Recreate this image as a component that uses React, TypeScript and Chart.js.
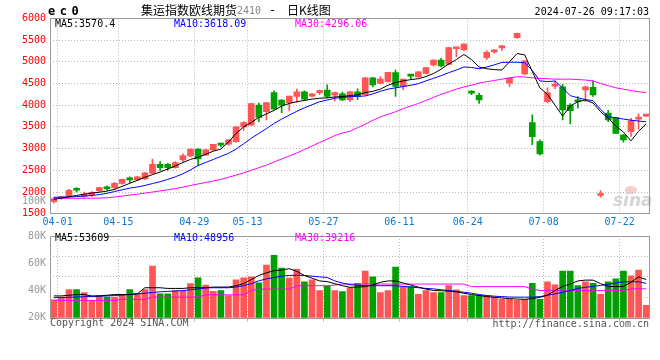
import React, { useEffect, useRef } from "react";
import { Chart, registerables } from "chart.js";
Chart.register(...registerables);

// ---------- DATA ----------
const dates = [
  "04-01","04-02","04-03","04-08","04-09","04-10","04-11","04-12","04-15","04-16",
  "04-17","04-18","04-19","04-22","04-23","04-24","04-25","04-26","04-29","04-30",
  "05-06","05-07","05-08","05-09","05-10","05-13","05-14","05-15","05-16","05-17",
  "05-20","05-21","05-22","05-23","05-24","05-27","05-28","05-29","05-30","05-31",
  "06-03","06-04","06-05","06-06","06-07","06-11","06-12","06-13","06-14","06-17",
  "06-18","06-19","06-20","06-21","06-24","06-25","06-26","06-27","06-28","07-01",
  "07-02","07-03","07-04","07-05","07-08","07-09","07-10","07-11","07-12","07-15",
  "07-16","07-17","07-18","07-19","07-22","07-23","07-24","07-25","07-26",
];
const tickDates = ["04-01","04-15","04-29","05-13","05-27","06-11","06-24","07-08","07-22"];

const open = [
  1780,1850,1900,2060,1900,1940,2030,2120,2100,2200,
  2310,2280,2300,2430,2640,2640,2560,2740,2830,2990,
  2850,2970,3100,3100,3160,3500,3540,4000,3850,4290,
  4120,4060,4200,4310,4210,4290,4350,4230,4260,4120,
  4310,4240,4630,4500,4540,4750,4430,4690,4650,4735,
  4926,5041,4942,5300,5271,4300,4230,5094,5230,5320,
  4505,5555,4720,3597,3159,4080,4440,4426,4003,4120,
  4350,4410,1920,3820,3712,3310,3390,3680,3750,
];
const high = [
  1870,1900,2060,2100,2000,2010,2110,2140,2220,2300,
  2350,2360,2450,2760,2700,2660,2700,2880,2990,3000,
  2990,3100,3130,3200,3510,3620,4050,4050,4060,4330,
  4130,4210,4370,4330,4270,4350,4470,4300,4300,4320,
  4380,4640,4640,4660,4760,4810,4600,4700,4780,4870,
  5050,5080,5330,5320,5420,4330,4280,5260,5280,5380,
  4630,5660,5030,3780,3200,4400,4560,4480,4040,4200,
  4440,4560,2030,3880,3720,3330,3700,3800,3780,
];
const low = [
  1740,1830,1890,2000,1880,1900,2000,2040,2050,2180,
  2210,2260,2290,2420,2500,2500,2550,2700,2810,2610,
  2840,2960,3040,3080,3150,3420,3540,3620,3660,3910,
  3830,3870,4070,4110,4190,4240,4170,4100,4110,4080,
  4130,4230,4420,4490,4530,4200,4350,4600,4640,4720,
  4900,4880,4930,5120,5260,4240,4040,5050,5200,5265,
  4430,5540,4700,3090,2850,4050,4380,3660,3570,3930,
  4080,4200,1880,3620,3352,3150,3280,3450,3740,
];
const close = [
  1850,1880,2040,2040,1950,1990,2100,2070,2200,2290,
  2280,2350,2440,2640,2560,2560,2680,2840,2990,2760,
  2970,3100,3080,3200,3500,3600,4040,3720,4060,3910,
  4000,4210,4310,4140,4260,4330,4200,4290,4120,4310,
  4200,4630,4470,4600,4760,4430,4600,4670,4770,4864,
  5041,4903,5325,5315,5410,4280,4120,5218,5250,5345,
  4620,5655,5020,3274,2876,4288,4470,3889,3873,4080,
  4426,4235,1960,3660,3352,3200,3640,3720,3770,
];
const ma5 = [
  1830,1860,1890,1920,1950,1975,1995,2020,2060,2130,
  2200,2270,2340,2400,2460,2530,2600,2680,2750,2800,
  2870,2940,2990,3150,3350,3500,3600,3720,3800,3880,
  3980,4040,4080,4110,4140,4160,4170,4190,4200,4220,
  4240,4290,4320,4370,4460,4520,4560,4590,4610,4660,
  4730,4830,4950,5050,5170,5050,4880,4840,4820,4810,
  5000,5190,5160,4780,4400,4250,4000,3750,3980,4080,
  4120,4050,3850,3700,3520,3380,3180,3400,3570,
];
const ma10 = [
  1878,1880,1885,1895,1905,1920,1940,1970,2010,2050,
  2090,2115,2150,2195,2237,2290,2350,2420,2510,2610,
  2680,2750,2820,2890,2990,3110,3240,3350,3460,3580,
  3680,3770,3860,3940,4010,4080,4120,4160,4182,4195,
  4205,4212,4260,4320,4370,4400,4430,4460,4496,4560,
  4620,4680,4750,4810,4880,4870,4840,4880,4930,4985,
  4990,4990,4980,4800,4560,4545,4557,4400,4220,4170,
  4130,4104,3900,3735,3710,3680,3655,3635,3618,
];
const ma30 = [
  1855,1855,1855,1855,1855,1858,1860,1865,1885,1905,
  1930,1950,1975,2000,2025,2050,2080,2110,2150,2185,
  2220,2255,2290,2340,2390,2440,2500,2560,2620,2690,
  2760,2830,2900,2980,3060,3140,3220,3300,3360,3400,
  3480,3560,3650,3730,3790,3850,3920,3980,4040,4110,
  4180,4250,4310,4370,4420,4460,4510,4540,4570,4600,
  4630,4656,4650,4630,4620,4610,4600,4600,4600,4590,
  4580,4560,4500,4450,4400,4370,4340,4310,4290,
];
// volume in thousands of lots
const volume = [
  33.2,35.1,40.6,40.6,38.5,32.7,36.3,35.1,35.1,37.1,
  40.6,37.8,40.6,57.9,37.6,37.6,39.9,39.4,45.0,49.3,
  44.0,39.4,39.9,36.3,47.8,49.3,50.0,45.7,58.6,65.8,
  56.5,49.1,55.5,46.4,47.8,39.9,43.0,39.9,39.2,41.9,
  45.2,54.3,50.0,38.5,39.9,57.2,42.8,42.8,37.1,39.9,
  38.5,38.5,43.5,40.4,36.3,36.3,36.3,36.3,35.1,33.5,
  33.5,32.7,33.5,45.2,33.5,46.4,44.2,54.3,54.3,43.5,
  46.4,45.2,37.1,46.4,48.6,54.3,50.7,55.0,29.1,
];
const volMa5 = [
  36,36,36.5,37,37,36,36,36.5,37,37,
  37,37.5,42,42,42,41.5,41.5,41.5,42,42,
  42,42.5,42.5,42.5,43.5,45,48,51,53,54.5,
  55,56,54,51,49,47,46.5,45,43.5,42.3,
  42.5,42.8,44,46,47,47,45.5,44,42.5,41,
  40,39.8,39.5,39,38,37,36.3,35.5,35,34.5,
  34,33.7,33.5,34,35,36.5,40,43,44.7,47,
  47.6,47.6,45,43,42.8,43,46,50,48,
];
const volMa10 = [
  34.7,34.8,35,35.2,35.4,35.6,35.8,36,36.3,36.6,
  37,37.5,38,38.5,39,39.3,39.6,39.9,40.5,41.2,
  41.9,42,42,42,42.5,43.5,45,47.1,48.5,49.5,
  50.5,51,51.2,51,50.5,50,49.5,47,45.5,44.2,
  43.8,43.5,43.5,43.5,43.5,43.5,43,42.5,42,41.5,
  41.2,40.5,40,39.3,38.7,38,37,36.3,35.8,35.5,
  35.2,35.1,35.1,35.1,35.5,36.5,37.5,38.7,40,41.5,
  42.3,43,43.7,44.5,45.5,46.4,46.4,46.4,45.2,
];
const volMa30 = [
  32.7,32.7,32.7,32.7,32.7,32.7,32.7,32.7,32.7,33.5,
  33.5,33.5,33.5,35.1,35.1,35.1,35.1,35.1,35.1,35.1,
  36.8,36.8,36.8,36.8,36.8,36.8,39.9,41,41,41,
  41,41,43.5,43.5,43.5,43.5,43.5,44,44.7,44.7,
  44.7,44.7,44.7,44.7,44.7,44.7,44.7,44.7,44.7,44.7,
  44.7,44.7,44.7,44.7,44.7,42.8,42.8,42.8,42.8,42.8,
  42.8,42.8,42.8,41,39.9,39.9,39.9,39.9,39.9,39.9,
  39.9,39.9,39.9,39.9,39.9,39.9,41.2,41.2,41.2,
];
const priceTicks = [1500, 2000, 2500, 3000, 3500, 4000, 4500, 5000, 5500, 6000];
const volumeTicks = [20, 40, 60, 80];
const mainLegend = ["MA5:3570.4", "MA10:3618.09", "MA30:4296.06"];
const volLegend = ["MA5:53609", "MA10:48956", "MA30:39216"];

// ---------- STYLE ----------
const UP = "#ff5555";
const DOWN = "#00a000";
const MA_COLORS = ["#000000", "#0000ff", "#ff00ff"];
const LEGEND_X = [55, 174, 295];
const GRID = "#b8b8b8";
const MONO = "'DejaVu Sans Mono', monospace";
const CJK = "'Noto Sans CJK SC', sans-serif";

const candleColors = dates.map((_, i) => (close[i] >= open[i] ? UP : DOWN));
const xy = (arr: number[]) => arr.map((v, i) => ({ x: i, y: v }));

function xScale(showLabels: boolean, height: number) {
  return {
    type: "linear",
    min: -0.5,
    max: dates.length - 0.5,
    offset: false,
    afterBuildTicks: (s: any) => {
      s.ticks = tickDates.map((d) => ({ value: dates.indexOf(d) + 0.5 }));
    },
    ticks: {
      display: showLabels,
      autoSkip: false,
      maxRotation: 0,
      padding: 3,
      color: "#0a78d2",
      font: { family: MONO, size: 10 },
      callback: (v: number) => dates[Math.round(v - 0.5)],
    },
    grid: { color: GRID, lineWidth: 1, drawTicks: !showLabels, tickLength: 4, offset: false },
    border: { display: false, dash: [1, 2] },
    afterFit: (s: any) => {
      s.height = height;
    },
  };
}

function drawBox(ctx: CanvasRenderingContext2D, a: any) {
  ctx.save();
  ctx.setLineDash([]);
  ctx.strokeStyle = "#999";
  ctx.lineWidth = 1;
  ctx.strokeRect(Math.round(a.left) + 0.5, Math.round(a.top) + 0.5, Math.round(a.right - a.left) - 1, Math.round(a.bottom - a.top));
  ctx.restore();
}

function drawLegend(ctx: CanvasRenderingContext2D, labels: string[], y: number) {
  ctx.save();
  ctx.font = `10px ${MONO}`;
  ctx.textBaseline = "middle";
  labels.forEach((t, k) => {
    ctx.fillStyle = MA_COLORS[k];
    ctx.fillText(t, LEGEND_X[k], y);
  });
  ctx.restore();
}

const mainDecor = {
  id: "mainDecor",
  beforeDatasetsDraw(chart: any) {
    const ctx = chart.ctx as CanvasRenderingContext2D;
    ctx.save();
    ctx.fillStyle = "rgba(240,170,170,0.6)";
    ctx.beginPath();
    ctx.ellipse(631, 190, 6, 4, 0, 0, Math.PI * 2);
    ctx.fill();
    ctx.font = `italic bold 17px 'DejaVu Sans', sans-serif`;
    ctx.fillStyle = "#d4d4d4";
    ctx.textBaseline = "alphabetic";
    ctx.fillText("sina", 613, 206);
    ctx.restore();
  },
  afterDraw(chart: any) {
    const ctx = chart.ctx as CanvasRenderingContext2D;
    drawBox(ctx, chart.chartArea);
    ctx.save();
    ctx.textBaseline = "middle";
    ctx.font = `bold 12px ${MONO}`;
    ctx.fillStyle = "#000";
    (ctx as any).letterSpacing = "4.5px";
    ctx.fillText("ec0", 48, 12);
    (ctx as any).letterSpacing = "0px";
    ctx.font = `12px ${CJK}`;
    ctx.fillStyle = "#000";
    ctx.fillText("集运指数欧线期货", 141, 10.5);
    ctx.font = `10px ${MONO}`;
    ctx.fillStyle = "#888";
    ctx.fillText("2410", 237, 11);
    ctx.font = `12px ${MONO}`;
    ctx.fillStyle = "#000";
    ctx.fillText("-", 269, 10.5);
    ctx.font = `12px ${CJK}`;
    ctx.fillText("日K线图", 287, 10.5);
    ctx.font = `10px ${MONO}`;
    ctx.textAlign = "right";
    ctx.fillText("2024-07-26 09:17:03", 649, 12);
    ctx.fillStyle = "#999";
    ctx.fillText("100K", 46, 201);
    ctx.restore();
    drawLegend(ctx, mainLegend, 24);
  },
};

const volDecor = {
  id: "volDecor",
  afterDraw(chart: any) {
    const ctx = chart.ctx as CanvasRenderingContext2D;
    drawBox(ctx, chart.chartArea);
    drawLegend(ctx, volLegend, 12.5);
    ctx.save();
    ctx.font = `10px ${MONO}`;
    ctx.textBaseline = "middle";
    ctx.fillStyle = "#555";
    ctx.fillText("Copyright 2024 SINA.COM", 50, 97.5);
    ctx.textAlign = "right";
    ctx.fillText("http://finance.sina.com.cn", 649, 98);
    ctx.restore();
  },
};

function lineDs(arr: number[], color: string) {
  return {
    type: "line",
    data: xy(arr),
    borderColor: color,
    borderWidth: 1,
    pointRadius: 0,
    tension: 0,
    order: 0,
  };
}

function mainConfig(): any {
  return {
    type: "bar",
    data: {
      datasets: [
        lineDs(ma5, MA_COLORS[0]),
        lineDs(ma10, MA_COLORS[1]),
        lineDs(ma30, MA_COLORS[2]),
        {
          type: "bar",
          data: dates.map((_, i) => ({ x: i, y: [open[i], close[i]] })),
          backgroundColor: candleColors,
          barThickness: 6,
          minBarLength: 2,
          grouped: false,
          order: 1,
        },
        {
          type: "bar",
          data: dates.map((_, i) => ({ x: i, y: [low[i], high[i]] })),
          backgroundColor: candleColors,
          barThickness: 1,
          grouped: false,
          order: 2,
        },
      ],
    },
    options: {
      animation: false,
      responsive: false,
      maintainAspectRatio: false,
      events: [],
      layout: { padding: { left: 0, right: 10, top: 18.4, bottom: 0 } },
      plugins: { legend: { display: false }, tooltip: { enabled: false } },
      scales: {
        x: xScale(true, 18.3),
        y: {
          type: "linear",
          min: 1500,
          max: 6000,
          afterBuildTicks: (s: any) => {
            s.ticks = priceTicks.map((v) => ({ value: v }));
          },
          ticks: {
            color: "#ff0000",
            padding: 4,
            font: { family: MONO, size: 10 },
            callback: (v: number) => String(v),
          },
          grid: { color: GRID, drawTicks: false },
          border: { display: false, dash: [1, 2] },
          afterFit: (s: any) => {
            s.width = 50;
          },
        },
      },
    },
    plugins: [mainDecor],
  };
}

function volConfig(): any {
  return {
    type: "bar",
    data: {
      datasets: [
        lineDs(volMa5, MA_COLORS[0]),
        lineDs(volMa10, MA_COLORS[1]),
        lineDs(volMa30, MA_COLORS[2]),
        {
          type: "bar",
          data: xy(volume),
          backgroundColor: candleColors,
          barThickness: 6,
          base: volumeTicks[0],
          grouped: false,
          order: 3,
        },
      ],
    },
    options: {
      animation: false,
      responsive: false,
      maintainAspectRatio: false,
      events: [],
      layout: { padding: { left: 0, right: 10, top: 8.3, bottom: 0 } },
      plugins: { legend: { display: false }, tooltip: { enabled: false } },
      scales: {
        x: xScale(false, 22.3),
        y: {
          type: "linear",
          position: "left",
          min: volumeTicks[0],
          max: volumeTicks[volumeTicks.length - 1],
          afterBuildTicks: (s: any) => {
            s.ticks = volumeTicks.map((v) => ({ value: v }));
          },
          ticks: { color: "#999", padding: 4, font: { family: MONO, size: 10 }, callback: (v: number) => `${v}K` },
          grid: { display: false, drawTicks: false },
          border: { display: false },
          afterFit: (s: any) => {
            s.width = 50;
          },
        },
        yGrid: {
          type: "linear",
          position: "left",
          min: 0,
          max: 4,
          ticks: { display: false, stepSize: 1 },
          grid: { color: GRID, drawTicks: false },
          border: { display: false, dash: [1, 2] },
          afterFit: (s: any) => {
            s.width = 0;
          },
        },
      },
    },
    plugins: [volDecor],
  };
}

export default function App() {
  const mainRef = useRef<HTMLCanvasElement>(null);
  const volRef = useRef<HTMLCanvasElement>(null);
  useEffect(() => {
    const c1 = new Chart(mainRef.current as HTMLCanvasElement, mainConfig());
    const c2 = new Chart(volRef.current as HTMLCanvasElement, volConfig());
    return () => {
      c1.destroy();
      c2.destroy();
    };
  }, []);
  return (
    <div style={{ position: "fixed", left: 0, top: 0, width: 660, height: 360, background: "#fff" }}>
      <canvas ref={mainRef} width={660} height={232} style={{ position: "absolute", left: 0, top: 0, width: 660, height: 232 }} />
      <canvas ref={volRef} width={660} height={114} style={{ position: "absolute", left: 0, top: 226, width: 660, height: 114 }} />
    </div>
  );
}
